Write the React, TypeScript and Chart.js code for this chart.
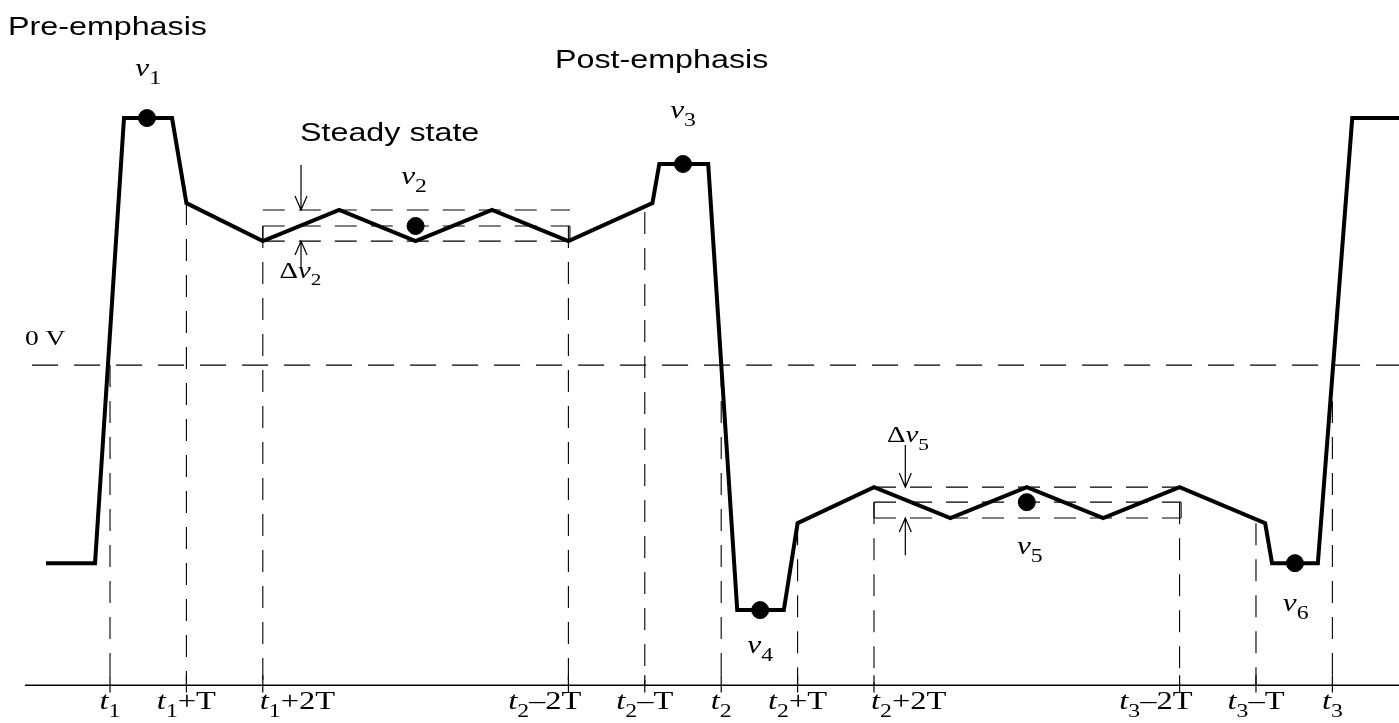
import { useEffect, useRef } from 'react';
import { Chart, registerables } from 'chart.js';

Chart.register(...registerables);

// Time is in units of T with t1 = 0; voltage is normalised so that v1 = 1.
const X_MIN = -1.44;
const X_MAX = 16.872;
const Y_MIN = -1.449;
const Y_MAX = 1.478;

// main waveform
const waveT = [-0.838, -0.196, 0.183, 0.812, 1, 2, 3, 4, 5, 6, 7.1, 7.19, 7.83, 8.21, 8.82, 9, 10, 11, 12, 13, 14, 15.12, 15.21, 15.81, 16.26, 16.9];
const waveV = [-0.802, -0.802, 1, 1, 0.656, 0.502, 0.628, 0.502, 0.628, 0.502, 0.656, 0.814, 0.814, -0.992, -0.992, -0.64, -0.494, -0.619, -0.494, -0.619, -0.494, -0.64, -0.802, -0.802, 1, 1];

// sampled points v1..v6
const markerT = [0.484, 4, 7.5, 8.51, 12, 15.51];
const markerV = [1, 0.563, 0.814, -0.992, -0.555, -0.802];
const markerIndex = ['1', '2', '3', '4', '5', '6'];
const markerLabelT = [0.5, 3.98, 7.5, 8.51, 12.04, 15.52];
const markerLabelV = [1.17, 0.735, 1.0, -1.165, -0.765, -0.995];

// time ticks
const tickT = [0, 1, 2, 6, 7, 8, 9, 10, 14, 15, 16];
const tickIndex = ['1', '1', '1', '2', '2', '2', '2', '2', '3', '3', '3'];
const tickSuffix = ['', '+T', '+2T', '\u20132T', '\u2013T', '', '+T', '+2T', '\u20132T', '\u2013T', ''];
const tickAlign = ['center', 'center', 'left', 'right', 'center', 'center', 'center', 'left', 'right', 'center', 'center'];
const guideTopV = [0, 0.656, 0.563, 0.563, 0.62, 0, -0.64, -0.555, -0.555, -0.64, 0];

// steady-state bands
const band2T = [2, 6.02];
const band2V = [0.628, 0.563, 0.502];
const band5T = [10, 14.02];
const band5V = [-0.494, -0.555, -0.619];

const zeroV = 0;
const zeroStartT = -1.02;
const axisV = -1.296;
const axisStartT = -1.113;
const tickLabelV = -1.393;

// delta arrows
const deltaT = [2.5, 10.41];
const deltaIndex = ['2', '5'];
const deltaOuterTop = [0.81, -0.324];
const deltaOuterBottom = [0.39, -0.77];
const deltaLabelT = [2.22, 10.17];
const deltaLabelV = [0.352, -0.312];

// headings
const headings = ['Pre-emphasis', 'Post-emphasis', 'Steady state'];
const headingT = [-1.335, 5.825, 2.487];
const headingV = [1.336, 1.202, 0.907];

const zeroLabel = '0 V';
const zeroLabelT = -1.113;
const zeroLabelV = 0.081;

const SERIF = "'Liberation Serif', 'DejaVu Serif', serif";
const SANS = "'Liberation Sans', Arial, sans-serif";
const SERIF_SX = 1.25;
const SANS_SX = 1.29;

type Run = { text: string; italic?: boolean; sub?: boolean };

function drawRuns(ctx: CanvasRenderingContext2D, runs: Run[], x: number, y: number, size: number, align: string) {
  ctx.save();
  ctx.translate(x, y);
  ctx.scale(SERIF_SX, 1);
  const subSize = Math.round(size * 0.74);
  const fontOf = (r: Run) => `${r.italic ? 'italic ' : ''}${r.sub ? subSize : size}px ${SERIF}`;
  let total = 0;
  for (const r of runs) {
    ctx.font = fontOf(r);
    total += ctx.measureText(r.text).width;
  }
  let cx = align === 'left' ? 0 : align === 'right' ? -total : -total / 2;
  ctx.textAlign = 'left';
  ctx.textBaseline = 'alphabetic';
  ctx.fillStyle = '#000';
  for (const r of runs) {
    ctx.font = fontOf(r);
    ctx.fillText(r.text, cx, r.sub ? size * 0.32 : 0);
    cx += ctx.measureText(r.text).width;
  }
  ctx.restore();
}

function drawArrow(ctx: CanvasRenderingContext2D, x: number, y0: number, y1: number) {
  const dir = y1 > y0 ? 1 : -1;
  ctx.save();
  ctx.strokeStyle = '#000';
  ctx.lineWidth = 1.2;
  ctx.beginPath();
  ctx.moveTo(x, y0);
  ctx.lineTo(x, y1);
  ctx.moveTo(x - 6, y1 - dir * 14);
  ctx.lineTo(x, y1);
  ctx.lineTo(x + 6, y1 - dir * 14);
  ctx.stroke();
  ctx.restore();
}

const seg = (t0: number, v0: number, t1: number, v1: number) => [
  { x: t0, y: v0 },
  { x: t1, y: v1 },
];

export default function App() {
  const ref = useRef<HTMLCanvasElement>(null);

  useEffect(() => {
    if (!ref.current) return;
    const dash = (data: any[], d: number[] = [22, 14]) => ({
      data,
      showLine: true,
      borderColor: '#000',
      borderWidth: 1.1,
      borderDash: d,
      pointRadius: 0,
      clip: false as any,
    });

    const datasets: any[] = [];
    datasets.push(dash(seg(zeroStartT, zeroV, X_MAX, zeroV), [26, 16]));
    tickT.forEach((t, i) => datasets.push(dash(seg(t, guideTopV[i], t, axisV))));
    band2V.forEach((v) => datasets.push(dash(seg(band2T[0], v, band2T[1], v))));
    band5V.forEach((v) => datasets.push(dash(seg(band5T[0], v, band5T[1], v))));
    datasets.push(dash(seg(band2T[0], band2V[1], band2T[0], band2V[2]), [40, 0]));
    datasets.push(dash(seg(band2T[1], band2V[1], band2T[1], band2V[2]), [40, 0]));
    datasets.push(dash(seg(band5T[0], band5V[1], band5T[0], band5V[2]), [40, 0]));
    datasets.push(dash(seg(band5T[1], band5V[1], band5T[1], band5V[2]), [40, 0]));
    datasets.push({
      data: seg(axisStartT, axisV, X_MAX, axisV),
      showLine: true,
      borderColor: '#000',
      borderWidth: 1.6,
      pointRadius: 0,
      clip: false,
    });
    tickT.forEach((t) =>
      datasets.push({
        data: seg(t, axisV + 0.04, t, axisV - 0.03),
        showLine: true,
        borderColor: '#000',
        borderWidth: 1.2,
        pointRadius: 0,
        clip: false,
      })
    );
    datasets.push({
      data: waveT.map((t, i) => ({ x: t, y: waveV[i] })),
      showLine: true,
      borderColor: '#000',
      borderWidth: 4,
      borderJoinStyle: 'miter',
      pointRadius: 0,
      tension: 0,
      clip: false,
    });
    datasets.push({
      data: markerT.map((t, i) => ({ x: t, y: markerV[i] })),
      showLine: false,
      pointRadius: 8.5,
      pointBackgroundColor: '#000',
      pointBorderColor: '#000',
      clip: false,
    });

    const textPlugin = {
      id: 'diagramText',
      afterDatasetsDraw(chart: any) {
        const ctx: CanvasRenderingContext2D = chart.ctx;
        const xs = chart.scales.x;
        const ys = chart.scales.y;
        const px = (t: number) => xs.getPixelForValue(t);
        const py = (v: number) => ys.getPixelForValue(v);

        headings.forEach((h, i) => {
          ctx.save();
          ctx.translate(px(headingT[i]), py(headingV[i]));
          ctx.scale(SANS_SX, 1);
          ctx.font = `25px ${SANS}`;
          ctx.fillStyle = '#000';
          ctx.textAlign = 'left';
          ctx.textBaseline = 'alphabetic';
          ctx.fillText(h, 0, 0);
          ctx.restore();
        });

        drawRuns(ctx, [{ text: zeroLabel }], px(zeroLabelT), py(zeroLabelV), 22, 'left');

        markerIndex.forEach((n, i) => {
          drawRuns(
            ctx,
            [{ text: 'v', italic: true }, { text: n, sub: true }],
            px(markerLabelT[i]),
            py(markerLabelV[i]),
            25,
            'center'
          );
        });

        tickT.forEach((t, i) => {
          const runs: Run[] = [{ text: 't', italic: true }, { text: tickIndex[i], sub: true }];
          if (tickSuffix[i]) runs.push({ text: tickSuffix[i] });
          let x = px(t);
          if (tickAlign[i] === 'left') x -= 3;
          if (tickAlign[i] === 'right') x += 13;
          drawRuns(ctx, runs, x, py(tickLabelV), 26, tickAlign[i]);
        });

        deltaT.forEach((t, i) => {
          const band = i === 0 ? band2V : band5V;
          drawArrow(ctx, px(t), py(deltaOuterTop[i]), py(band[0]));
          drawArrow(ctx, px(t), py(deltaOuterBottom[i]), py(band[2]));
          drawRuns(
            ctx,
            [{ text: '\u0394' }, { text: 'v', italic: true }, { text: deltaIndex[i], sub: true }],
            px(deltaLabelT[i]),
            py(deltaLabelV[i]),
            23,
            'left'
          );
        });
      },
    };

    const chart = new Chart(ref.current, {
      type: 'scatter',
      data: { datasets },
      options: {
        animation: false,
        responsive: false,
        layout: { padding: 0, autoPadding: false },
        plugins: { legend: { display: false }, tooltip: { enabled: false } },
        events: [],
        scales: {
          x: { type: 'linear', min: X_MIN, max: X_MAX, display: false },
          y: { type: 'linear', min: Y_MIN, max: Y_MAX, display: false },
        },
      },
      plugins: [textPlugin],
    });
    return () => chart.destroy();
  }, []);

  return (
    <div style={{ position: 'fixed', left: 0, top: 0, width: 1399, height: 723, background: '#fff' }}>
      <canvas ref={ref} width={1399} height={723} style={{ display: 'block' }} />
    </div>
  );
}
